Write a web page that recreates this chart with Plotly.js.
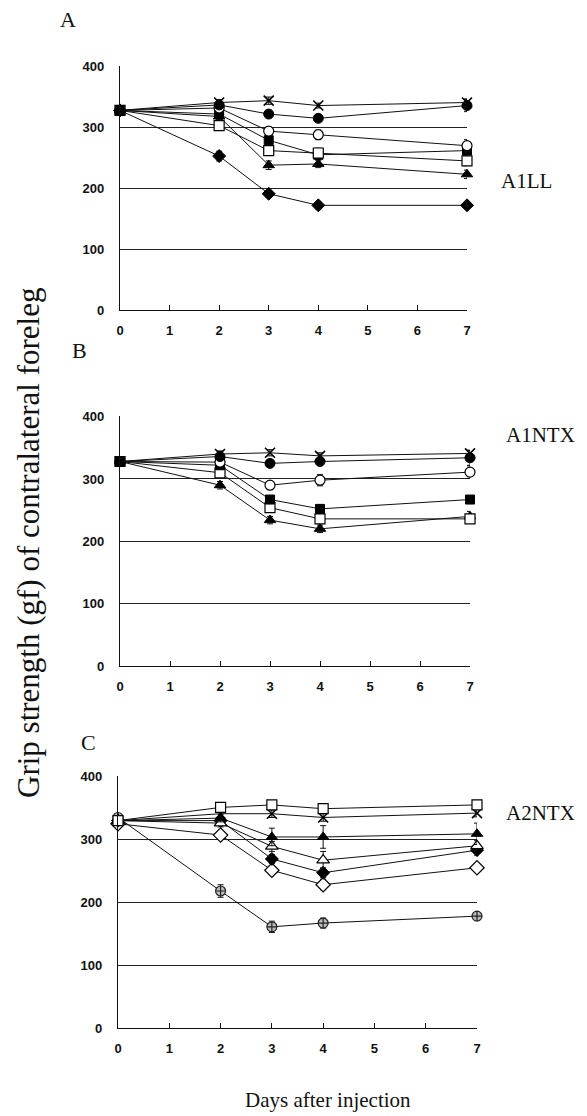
<!DOCTYPE html>
<html>
<head>
<meta charset="utf-8">
<script src="https://cdn.plot.ly/plotly-3.0.1.min.js"></script>
<style>html,body{margin:0;padding:0;background:#fff;}</style>
</head>
<body>
<div id="chart" style="width:587px;height:1116px;"></div>
<script>
// ---- data ----
const days = [0, 2, 3, 4, 7];
const xTicks = [0, 1, 2, 3, 4, 5, 6, 7];
const yTicks = [0, 100, 200, 300, 400];

// Panel A : A1LL
const A_cross    = [328, 341, 344, 336, 341];
const A_fcircle  = [328, 337, 322, 315, 336];
const A_ocircle  = [328, 332, 294, 288, 270];
const A_fsquare  = [328, 322, 279, 255, 262];
const A_osquare  = [328, 303, 262, 258, 245];
const A_ftri     = [328, 318, 238, 240, 223];
const A_fdiam    = [328, 253, 191, 172, 172];
const A_cross_err   = [5, 5, 6, 4, 6];
const A_fcircle_err = [5, 5, 6, 5, 10];
const A_ocircle_err = [5, 5, 7, 8, 10];
const A_fsquare_err = [5, 5, 8, 7, 8];
const A_osquare_err = [5, 5, 8, 8, 8];
const A_ftri_err    = [5, 5, 7, 6, 7];
const A_fdiam_err   = [5, 8, 5, 6, 4];

// Panel B : A1NTX
const B_cross    = [328, 340, 342, 337, 341];
const B_fcircle  = [328, 336, 325, 328, 334];
const B_ocircle  = [328, 327, 290, 298, 311];
const B_fsquare  = [328, 322, 267, 252, 267];
const B_osquare  = [328, 310, 254, 236, 236];
const B_ftri     = [328, 290, 234, 220, 240];
const B_cross_err   = [5, 5, 5, 5, 5];
const B_fcircle_err = [5, 6, 5, 6, 12];
const B_ocircle_err = [5, 5, 6, 9, 10];
const B_fsquare_err = [5, 6, 6, 7, 6];
const B_osquare_err = [5, 6, 6, 7, 6];
const B_ftri_err    = [5, 6, 6, 6, 8];

// Panel C : A2NTX
const C_osquare  = [330, 351, 355, 349, 355];
const C_cross    = [330, 341, 341, 335, 342];
const C_ftri     = [330, 334, 304, 304, 309];
const C_otri     = [330, 326, 289, 267, 290];
const C_fdiam    = [330, 330, 269, 247, 283];
const C_odiam    = [325, 307, 251, 228, 255];
const C_hcircle  = [335, 218, 161, 167, 178];
const C_osquare_err = [5, 5, 5, 5, 5];
const C_cross_err   = [5, 5, 6, 6, 6];
const C_ftri_err    = [5, 6, 14, 18, 17];
const C_otri_err    = [5, 6, 8, 14, 8];
const C_fdiam_err   = [5, 6, 7, 8, 8];
const C_odiam_err   = [5, 5, 7, 8, 6];
const C_hcircle_err = [5, 10, 9, 8, 4];

const panelLetters = ['A', 'B', 'C'];
const panelNames = ['A1LL', 'A1NTX', 'A2NTX'];
const yTitle = 'Grip strength (gf) of contralateral foreleg';
const xTitle = 'Days after injection';

// ---- styles ----
const S = {
  cross:   {symbol: 'x-thin-open', color: '#000', line: {color: '#000', width: 1.6}, size: 10},
  fcircle: {symbol: 'circle', color: '#000', line: {color: '#000', width: 1}, size: 10},
  ocircle: {symbol: 'circle', color: '#fff', line: {color: '#000', width: 1.2}, size: 10},
  fsquare: {symbol: 'square', color: '#000', line: {color: '#000', width: 1}, size: 9},
  osquare: {symbol: 'square', color: '#fff', line: {color: '#000', width: 1.2}, size: 10},
  ftri:    {symbol: 'triangle-up', color: '#000', line: {color: '#000', width: 1}, size: 10},
  otri:    {symbol: 'triangle-up', color: '#fff', line: {color: '#000', width: 1.2}, size: 11},
  fdiam:   {symbol: 'diamond', color: '#000', line: {color: '#000', width: 1}, size: 10},
  odiam:   {symbol: 'diamond', color: '#fff', line: {color: '#000', width: 1.2}, size: 11},
  hcircle: {symbol: 'circle-cross', color: '#bbb', line: {color: '#222', width: 1.2}, size: 10}
};

function tr(y, err, style, ax) {
  return {
    x: days, y: y, type: 'scatter', mode: 'lines+markers',
    xaxis: 'x' + ax, yaxis: 'y' + ax, cliponaxis: false,
    line: {color: '#111', width: 1},
    marker: style,
    error_y: {type: 'data', array: err, visible: true, color: '#111', thickness: 1, width: 3},
    showlegend: false, hoverinfo: 'x+y'
  };
}

const data = [
  tr(A_fdiam, A_fdiam_err, S.fdiam, ''),
  tr(A_ftri, A_ftri_err, S.ftri, ''),
  tr(A_fsquare, A_fsquare_err, S.fsquare, ''),
  tr(A_osquare, A_osquare_err, S.osquare, ''),
  tr(A_ocircle, A_ocircle_err, S.ocircle, ''),
  tr(A_fcircle, A_fcircle_err, S.fcircle, ''),
  tr(A_cross, A_cross_err, S.cross, ''),

  tr(B_ftri, B_ftri_err, S.ftri, '2'),
  tr(B_osquare, B_osquare_err, S.osquare, '2'),
  tr(B_fsquare, B_fsquare_err, S.fsquare, '2'),
  tr(B_ocircle, B_ocircle_err, S.ocircle, '2'),
  tr(B_fcircle, B_fcircle_err, S.fcircle, '2'),
  tr(B_cross, B_cross_err, S.cross, '2'),

  tr(C_hcircle, C_hcircle_err, S.hcircle, '3'),
  tr(C_odiam, C_odiam_err, S.odiam, '3'),
  tr(C_fdiam, C_fdiam_err, S.fdiam, '3'),
  tr(C_otri, C_otri_err, S.otri, '3'),
  tr(C_ftri, C_ftri_err, S.ftri, '3'),
  tr(C_cross, C_cross_err, S.cross, '3'),
  tr(C_osquare, C_osquare_err, S.osquare, '3')
];

const W = 587, H = 1116;
function px2x(p) { return p / W; }
function px2y(p) { return 1 - p / H; }

const tickFont = {family: 'Liberation Sans, Arial, sans-serif', size: 13, color: '#111', weight: 'bold'};

function xax(l, r, anchor) {
  return {
    domain: [px2x(l), px2x(r)], anchor: anchor, range: [0, 7],
    tickmode: 'array', tickvals: xTicks, ticktext: xTicks.map(String),
    ticks: 'inside', ticklen: 5, tickwidth: 1, tickcolor: '#111',
    showline: true, linecolor: '#111', linewidth: 1.2,
    showgrid: false, zeroline: false, tickfont: tickFont, ticklabelstandoff: 8,
    fixedrange: true
  };
}
function yax(top, bot, anchor) {
  return {
    domain: [px2y(bot), px2y(top)], anchor: anchor, range: [0, 401],
    tickmode: 'array', tickvals: yTicks, ticktext: yTicks.map(String),
    ticks: '', showline: true, linecolor: '#111', linewidth: 1.2,
    showgrid: true, gridcolor: '#222', gridwidth: 1,
    zeroline: false, tickfont: tickFont, ticklabelstandoff: 12,
    fixedrange: true
  };
}

const serif = 'Liberation Serif, Times New Roman, serif';
function ann(text, xp, yp, opts) {
  return Object.assign({
    text: text, x: px2x(xp), y: px2y(yp), xref: 'paper', yref: 'paper',
    xanchor: 'center', yanchor: 'middle', showarrow: false,
    font: {family: serif, size: 22, color: '#111'}
  }, opts || {});
}
const annotations = [
  ann(panelLetters[0], 68, 20),
  ann(panelLetters[1], 79, 350),
  ann(panelLetters[2], 88, 742),
  ann(panelNames[0], 499, 181, {xanchor: 'left', font: {family: serif, size: 21, color: '#111'}}),
  ann(panelNames[1], 504, 435, {xanchor: 'left', font: {family: serif, size: 21, color: '#111'}}),
  ann(panelNames[2], 504, 813, {xanchor: 'left', font: {family: serif, size: 21, color: '#111'}}),
  ann(yTitle, 28, 543, {textangle: -90, font: {family: serif, size: 31, color: '#111'}}),
  ann(xTitle, 328, 1100, {font: {family: serif, size: 21, color: '#111'}})
];

const layout = {
  width: W, height: H,
  margin: {l: 0, r: 0, t: 0, b: 0},
  paper_bgcolor: '#fff', plot_bgcolor: 'rgba(0,0,0,0)',
  showlegend: false,
  xaxis: xax(120, 467, 'y'),
  yaxis: yax(66, 310, 'x'),
  xaxis2: xax(120, 470, 'y2'),
  yaxis2: yax(416, 666, 'x2'),
  xaxis3: xax(118, 477, 'y3'),
  yaxis3: yax(776, 1028, 'x3'),
  annotations: annotations
};

Plotly.newPlot('chart', data, layout, {displayModeBar: false, staticPlot: true});
</script>
</body>
</html>
